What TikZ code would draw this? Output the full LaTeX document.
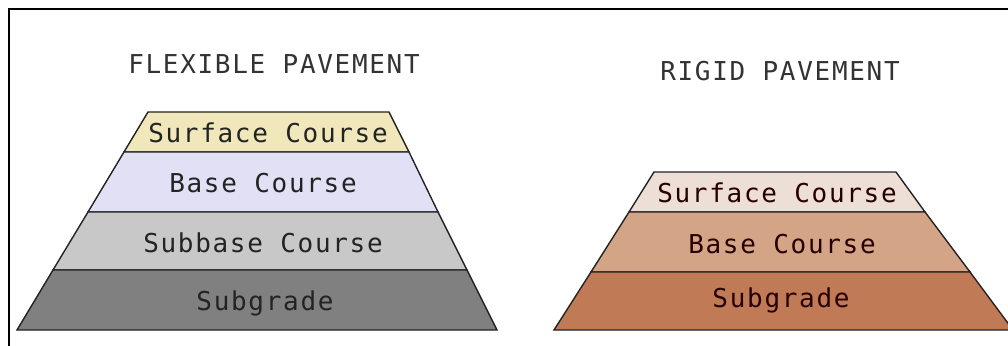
\documentclass[tikz,border=0pt]{standalone}
\usepackage{fontspec}
\usepackage{tikz}
\newfontfamily\cadfont[LetterSpace=6.5]{DejaVu Sans Mono}
\definecolor{flexsurfcol}{RGB}{240,232,186}
\definecolor{flexbasecol}{RGB}{226,224,245}
\definecolor{flexsubcol}{RGB}{200,200,200}
\definecolor{flexgradecol}{RGB}{128,128,128}
\definecolor{rigsurfcol}{RGB}{237,223,213}
\definecolor{rigbasecol}{RGB}{212,164,134}
\definecolor{riggradecol}{RGB}{192,122,86}
\definecolor{inkcol}{RGB}{35,35,35}

\begin{document}
\begin{tikzpicture}[x=1bp,y=-1bp]
  \tikzset{layer/.style={draw=inkcol,line width=1.4bp,line join=miter}}
  \tikzset{layertext/.style={font=\cadfont\fontsize{26bp}{30bp}\selectfont,inner sep=0pt,anchor=base,text=inkcol}}
  \tikzset{titletext/.style={layertext,text=black!80}}
  \useasboundingbox (0,0) rectangle (1008,345);
  \clip (0,0) rectangle (1008,345);
  \fill[white] (0,0) rectangle (1008,345);
  % frame
  \draw[black,line width=2.2bp] (9,350) -- (9,9) -- (1015,9);
  % flexible pavement
  \filldraw[layer,fill=flexsurfcol] (148,112) -- (389,112) -- (409,152) -- (124,152) -- cycle;
  \filldraw[layer,fill=flexbasecol] (124,152) -- (409,152) -- (438,212) -- (88,212) -- cycle;
  \filldraw[layer,fill=flexsubcol] (88,212) -- (438,212) -- (467,270) -- (53,270) -- cycle;
  \filldraw[layer,fill=flexgradecol] (53,270) -- (467,270) -- (497,330) -- (17,330) -- cycle;
  \node[titletext] (flextitle) at (274,73) {FLEXIBLE PAVEMENT};
  \node[layertext] (flexsurf) at (268,142) {Surface Course};
  \node[layertext] (flexbase) at (263,192) {Base Course};
  \node[layertext] (flexsub) at (263,252) {Subbase Course};
  \node[layertext] (flexgrade) at (265,310) {Subgrade};
  % rigid pavement
  \filldraw[layer,fill=rigsurfcol] (654,172) -- (896,172) -- (925,212) -- (629,212) -- cycle;
  \filldraw[layer,fill=rigbasecol] (629,212) -- (925,212) -- (970,272) -- (591,272) -- cycle;
  \filldraw[layer,fill=riggradecol] (591,272) -- (970,272) -- (1013,330) -- (554,330) -- cycle;
  \node[titletext] (rigtitle) at (780,80) {RIGID PAVEMENT};
  \node[layertext,text=black!85!red] (rigsurf) at (777,202) {Surface Course};
  \node[layertext,text=black!85!red] (rigbase) at (782,253) {Base Course};
  \node[layertext,text=black!85!red] (riggrade) at (781,307) {Subgrade};
\end{tikzpicture}
\end{document}
